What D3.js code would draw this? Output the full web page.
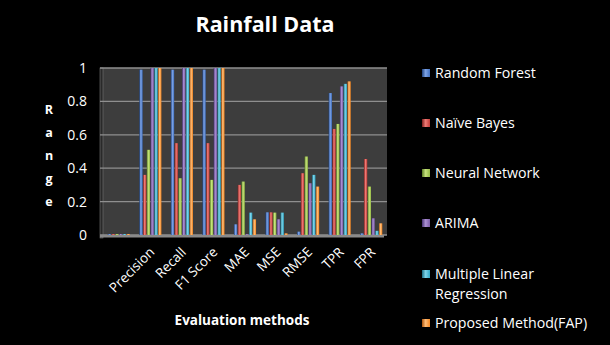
<!DOCTYPE html>
<html><head><meta charset="utf-8">
<script src="https://cdn.jsdelivr.net/npm/d3@7"></script>
<style>body{margin:0;background:#000;} svg{display:block;}</style>
</head><body>
<svg id="c" width="610" height="345"></svg>
<script>
const categories = ["", "Precision", "Recall", "F1 Score", "MAE", "MSE", "RMSE", "TPR", "FPR"];
const seriesNames = ["Random Forest", "Naïve Bayes", "Neural Network", "ARIMA", "Multiple Linear Regression", "Proposed Method(FAP)"];
const randomForest = [0.006, 0.99, 0.99, 0.99, 0.064, 0.136, 0.02, 0.85, 0.01];
const naiveBayes   = [0.006, 0.36, 0.55, 0.55, 0.30, 0.136, 0.37, 0.635, 0.455];
const neuralNet    = [0.006, 0.51, 0.34, 0.33, 0.32, 0.134, 0.47, 0.665, 0.29];
const arima        = [0.006, 1.0, 1.0, 1.0, 0.005, 0.094, 0.31, 0.89, 0.10];
const mlr          = [0.006, 1.0, 1.0, 1.0, 0.134, 0.134, 0.36, 0.905, 0.025];
const fap          = [0.006, 1.0, 1.0, 1.0, 0.094, 0.01, 0.29, 0.92, 0.07];
const yTicks = [0, 0.2, 0.4, 0.6, 0.8, 1];
const colors = ["#3f6fc0", "#c23a36", "#93b843", "#7a5ba6", "#2fa8c6", "#f5861f"];
const dark   = ["#1d3f7a", "#7a1c1a", "#587a22", "#463070", "#176a80", "#a9520a"];
const light  = ["#7ea4e6", "#ee7b76", "#c6e27d", "#ab90d2", "#7fd5ea", "#ffbd78"];

const seriesData = [randomForest, naiveBayes, neuralNet, arima, mlr, fap];
const svg = d3.select("#c");
const defs = svg.append("defs");
colors.forEach((c, i) => {
  const g = defs.append("linearGradient").attr("id", "g" + i).attr("x1", "0").attr("x2", "1").attr("y1", "0").attr("y2", "0");
  g.append("stop").attr("offset", "0%").attr("stop-color", dark[i]);
  g.append("stop").attr("offset", "45%").attr("stop-color", light[i]);
  g.append("stop").attr("offset", "100%").attr("stop-color", c);
});

const m = {left: 103, right: 387, top: 68, bottom: 235};
const x = d3.scaleBand().domain(categories).range([m.left, m.right]).paddingInner(0.3).paddingOuter(0.15);
const xs = d3.scaleBand().domain(d3.range(6)).range([0, x.bandwidth()]).paddingInner(0.12);
const y = d3.scaleLinear().domain([0, 1]).range([m.bottom, m.top]);

// plot background (3D wall)
svg.append("rect").attr("x", m.left).attr("y", m.top).attr("width", m.right - m.left).attr("height", m.bottom - m.top).attr("fill", "#3d3d3d");
svg.append("rect").attr("x", m.left - 3).attr("y", m.top).attr("width", 3).attr("height", m.bottom - m.top + 3).attr("fill", "#2a2a2a").attr("stroke", "#777").attr("stroke-width", 0.6);
// grid lines
svg.append("g").selectAll("line").data(yTicks).join("line")
  .attr("x1", m.left - 3).attr("x2", m.right).attr("y1", d => y(d)).attr("y2", d => y(d))
  .attr("stroke", "#8f8f8f").attr("stroke-width", 1.3);
// floor
svg.append("rect").attr("x", m.left - 3).attr("y", m.bottom).attr("width", m.right - m.left).attr("height", 2.5).attr("fill", "#8a8a8a");

// y tick labels
svg.append("g").selectAll("text").data(yTicks).join("text")
  .attr("x", 87).attr("y", d => y(d) + 5).attr("text-anchor", "end")
  .attr("fill", "#fff").attr("font-family", "Open Sans, sans-serif").attr("font-size", 14)
  .text(d => d3.format("")(d));

// bars
seriesData.forEach((vals, si) => {
  svg.append("g").selectAll("rect").data(vals).join("rect")
    .attr("x", (d, i) => x(categories[i]) + xs(si))
    .attr("y", d => y(d))
    .attr("width", xs.bandwidth())
    .attr("height", d => y(0) - y(d))
    .attr("fill", "url(#g" + si + ")");
});

// x labels
svg.append("g").selectAll("text").data(categories.filter(c => c !== "")).join("text")
  .attr("transform", d => `translate(${x(d) + x.bandwidth() / 2 + 5},${m.bottom + 18}) rotate(-45)`)
  .attr("text-anchor", "end").attr("fill", "#fff")
  .attr("font-family", "Open Sans, sans-serif").attr("font-size", 13.5)
  .text(d => d);

// title
svg.append("text").attr("x", 265).attr("y", 32).attr("text-anchor", "middle")
  .attr("fill", "#fff").attr("font-family", "Open Sans, sans-serif").attr("font-weight", "bold").attr("font-size", 21.5)
  .text("Rainfall Data");

// axis titles
svg.append("text").attr("x", 242).attr("y", 325).attr("text-anchor", "middle")
  .attr("fill", "#fff").attr("font-family", "Open Sans, sans-serif").attr("font-weight", "bold").attr("font-size", 13.5)
  .text("Evaluation methods");
const yl = "Range".split("");
svg.append("g").selectAll("text").data(yl).join("text")
  .attr("x", 49).attr("y", (d, i) => 114 + i * 23).attr("text-anchor", "middle")
  .attr("fill", "#fff").attr("font-family", "Open Sans, sans-serif").attr("font-weight", "bold").attr("font-size", 12.5)
  .text(d => d);

// legend
const legY = [73, 123, 173, 223, 274, 323];
const lg = svg.append("g");
seriesNames.forEach((name, i) => {
  lg.append("rect").attr("x", 422).attr("y", legY[i] - 4).attr("width", 8).attr("height", 8).attr("fill", "url(#g" + i + ")");
  const t = lg.append("text").attr("x", 435).attr("y", legY[i] + 5).attr("fill", "#fff")
    .attr("font-family", "Open Sans, sans-serif").attr("font-size", 14.2);
  if (name === "Multiple Linear Regression") {
    t.append("tspan").attr("x", 435).text("Multiple Linear");
    t.append("tspan").attr("x", 435).attr("dy", 20).text("Regression");
  } else t.text(name);
});
</script>
</body></html>
